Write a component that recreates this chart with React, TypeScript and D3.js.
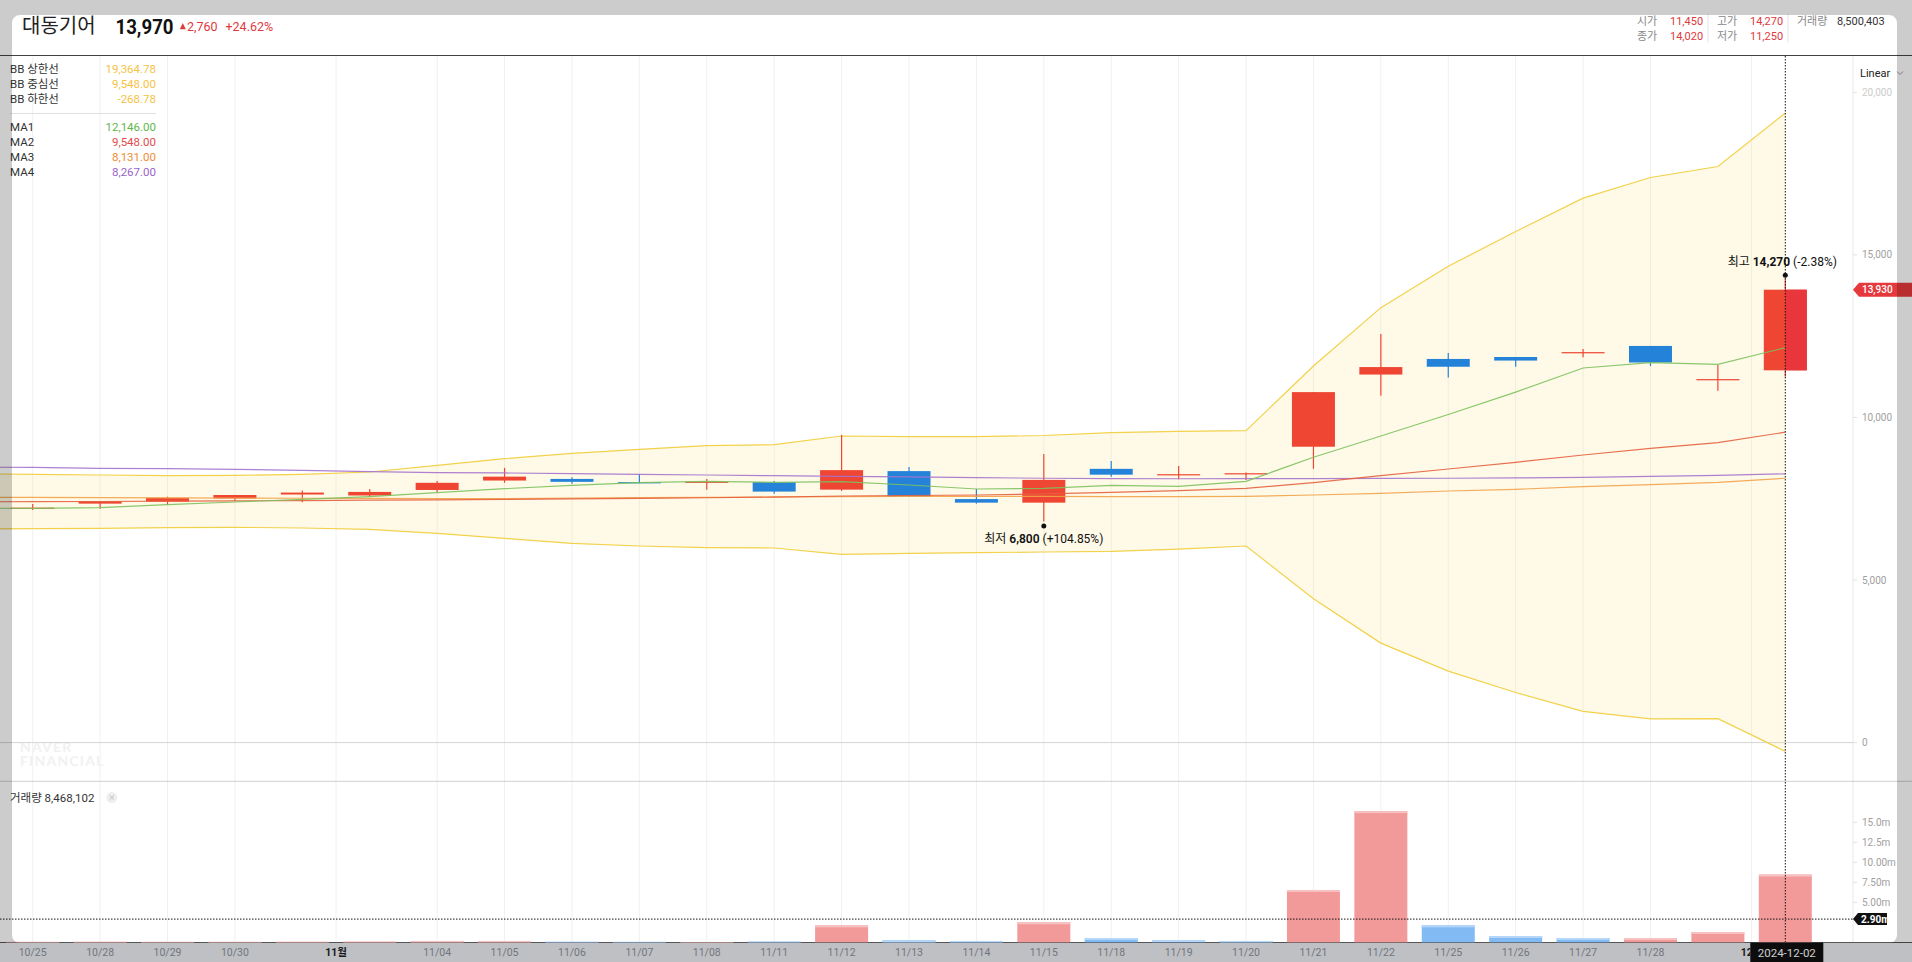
import React from "react";
import * as d3 from "d3";

const FONT = "Roboto, 'Noto Sans CJK KR', sans-serif";

// ---------- data ----------
const dates = [
  "10/25", "10/28", "10/29", "10/30", "10/31", "11/01", "11/04", "11/05", "11/06",
  "11/07", "11/08", "11/11", "11/12", "11/13", "11/14", "11/15", "11/18", "11/19",
  "11/20", "11/21", "11/22", "11/25", "11/26", "11/27", "11/28", "11/29", "12/02",
];
const opens = [7225, 7350, 7410, 7510, 7630, 7600, 7770, 8060, 8110, 8010, 8020, 8010, 7780, 8350, 7490, 7380, 8420, 8250, 8280, 9100, 11320, 11800, 11860, 12000, 12200, 11170, 11450];
const highs = [7340, 7420, 7565, 7615, 7750, 7800, 8045, 8450, 8160, 8260, 8105, 8045, 9460, 8480, 7800, 8880, 8660, 8505, 8310, 10780, 12570, 11980, 11860, 12105, 12200, 11615, 14270];
const lows = [7155, 7190, 7310, 7430, 7390, 7565, 7700, 7990, 7960, 7975, 7780, 7655, 7740, 7565, 7350, 6800, 8180, 8100, 8080, 8420, 10670, 11230, 11560, 11850, 11580, 10820, 11250];
const closes = [7226, 7420, 7530, 7615, 7690, 7710, 7990, 8180, 8020, 7995, 8025, 7720, 8380, 7565, 7380, 8080, 8240, 8255, 8285, 10780, 11550, 11560, 11750, 12010, 11690, 11180, 13930];
// volume in millions of shares
const volumes = [0.05, 0.06, 0.05, 0.05, 0.06, 0.08, 0.15, 0.15, 0.06, 0.05, 0.04, 0.08, 2.12, 0.25, 0.12, 2.5, 0.54, 0.29, 0.16, 6.54, 16.4, 2.12, 0.79, 0.54, 0.54, 1.29, 8.468102];
const volumeUp = [true, true, true, true, true, true, true, true, false, false, true, false, true, false, false, true, false, false, false, true, true, false, false, false, true, true, true];

// indicator lines start one session earlier (10/24) so they run off the left edge
const lineDates = ["10/24", ...dates];
const bbUpper = [8270, 8252, 8231, 8210, 8220, 8252, 8323, 8528, 8733, 8898, 9021, 9132, 9163, 9430, 9409, 9409, 9445, 9532, 9574, 9593, 11583, 13377, 14650, 15719, 16745, 17380, 17718, 19364.78];
const bbLower = [6565, 6580, 6591, 6611, 6622, 6601, 6560, 6437, 6280, 6130, 6047, 5995, 5985, 5791, 5822, 5842, 5862, 5883, 5950, 6047, 4426, 3060, 2200, 1540, 960, 730, 735, -268.78];
const ma1 = [7210, 7206, 7226, 7318, 7400, 7482, 7564, 7687, 7810, 7914, 7994, 8036, 8005, 8025, 7923, 7800, 7822, 7914, 7883, 8037, 8775, 9430, 10090, 10780, 11521, 11685, 11634, 12146];
const ma2 = [7405, 7410, 7415, 7425, 7435, 7445, 7455, 7465, 7482, 7495, 7510, 7530, 7550, 7585, 7600, 7615, 7650, 7699, 7748, 7822, 7994, 8209, 8415, 8620, 8845, 9051, 9225, 9548];
const ma3 = [7545, 7544, 7535, 7525, 7520, 7515, 7510, 7505, 7502, 7520, 7533, 7545, 7555, 7565, 7570, 7575, 7570, 7565, 7565, 7570, 7615, 7668, 7738, 7790, 7871, 7932, 8005, 8131];
const ma4 = [8470, 8467, 8436, 8426, 8405, 8375, 8334, 8303, 8293, 8270, 8250, 8230, 8210, 8190, 8170, 8150, 8130, 8120, 8115, 8117, 8120, 8125, 8130, 8140, 8160, 8190, 8220, 8267];

const tickLabels = ["10/25", "10/28", "10/29", "10/30", "11월", "11/04", "11/05", "11/06", "11/07", "11/08", "11/11", "11/12", "11/13", "11/14", "11/15", "11/18", "11/19", "11/20", "11/21", "11/22", "11/25", "11/26", "11/27", "11/28", "12월"];
const tickPositions = [0, 1, 2, 3, 4.5, 6, 7, 8, 9, 10, 11, 12, 13, 14, 15, 16, 17, 18, 19, 20, 21, 22, 23, 24, 25.5];

const priceTicks = [0, 5000, 10000, 15000, 20000];
const volTickValues = [5, 7.5, 10, 12.5, 15];
const volTickLabels = ["5.00m", "7.50m", "10.00m", "12.5m", "15.0m"];

const bbLabels = ["BB 상한선", "BB 중심선", "BB 하한선"];
const bbValues = ["19,364.78", "9,548.00", "-268.78"];
const maLabels = ["MA1", "MA2", "MA3", "MA4"];
const maValues = ["12,146.00", "9,548.00", "8,131.00", "8,267.00"];

const stockName = "대동기어";
const lastPrice = "13,970";
const change = "2,760";
const changePct = "+24.62%";
const infoLabels = [["시가", "종가"], ["고가", "저가"]];
const infoValues = [["11,450", "14,020"], ["14,270", "11,250"]];
const volLabel = "거래량";
const volValueTop = "8,500,403";
const volLegendValue = "8,468,102";
const crossVolume = 2.9;
const crossDate = "2024-12-02";

// ---------- styles ----------
const RED = "#ee4632";
const BLUE = "#2483d9";
const BB_LINE = "#f2d14b";
const MA_COLORS = ["#7cc15e", "#e6603f", "#f2a24a", "#a473cc"];
const MA_TEXT = ["#5cb84a", "#e34b4b", "#ef8c35", "#9a63c9"];

export default function App() {
  const x = d3.scaleLinear().domain([0, 26]).range([32.7, 1785.3]);
  const y = d3.scaleLinear().domain([0, 15000]).range([742.6, 254.9]);
  const yv = d3.scaleLinear().domain([0, 15]).range([942.3, 822.3]);
  const lxi = (i: number) => x(i - 1);

  const linePath = (arr: number[]) =>
    d3.line<number>().x((_, i) => lxi(i)).y((d) => y(d))(arr) || "";
  const bandArea =
    d3
      .area<number>()
      .x((_, i) => lxi(i))
      .y0((_, i) => y(bbLower[i]))
      .y1((d) => y(d))(bbUpper) || "";

  const bodyW = 43;
  const volW = 53;
  const last = dates.length - 1;
  const lowIdx = d3.minIndex(lows);
  const highIdx = d3.maxIndex(highs);
  const cur = closes[last];
  const fmt = d3.format(",");
  const pct = (v: number) => {
    const p = (cur / v - 1) * 100;
    return (p >= 0 ? "+" : "") + p.toFixed(2) + "%";
  };

  const crossX = x(last);
  const crossY = yv(crossVolume);
  const closeY = y(cur);

  return (
    <svg
      width={1912}
      height={962}
      style={{ position: "absolute", left: 0, top: 0, display: "block" }}
      fontFamily={FONT}
    >
      <defs>
        <clipPath id="mainClip">
          <rect x={0} y={56} width={1853} height={725} />
        </clipPath>
        <clipPath id="axisClip">
          <rect x={0} y={943} width={crossX - 35} height={19} />
        </clipPath>
      </defs>
      <rect x={0} y={0} width={1912} height={962} fill="#ffffff" />
      {/* bottom axis strip */}
      <rect x={0} y={942} width={1912} height={20} fill="#eef0f5" />

      {/* vertical grid */}
      {tickPositions.map((p, i) => (
        <line key={"g" + i} x1={x(p)} x2={x(p)} y1={56} y2={942} stroke="#f0f0f0" strokeWidth={1} />
      ))}
      {/* right axis line */}
      <line x1={1853} x2={1853} y1={56} y2={942} stroke="#e8e8e8" />

      {/* watermark */}
      <g fill="#f1f1f1" fontWeight={700} fontSize={14} fontFamily="Lato, Roboto, sans-serif" letterSpacing={1.2}>
        <text x={20} y={751.5}>NAVER</text>
        <text x={20} y={766}>FINANCIAL</text>
      </g>

      {/* zero line / pane separators */}
      <line x1={0} x2={1853} y1={y(0)} y2={y(0)} stroke="#d4d4d4" />
      <line x1={0} x2={1912} y1={781.3} y2={781.3} stroke="#cfcfcf" />
      <line x1={0} x2={1912} y1={55.5} y2={55.5} stroke="#444" />
      <line x1={0} x2={1912} y1={942.5} y2={942.5} stroke="#555" />

      {/* main pane */}
      <g clipPath="url(#mainClip)">
        <path d={bandArea} fill="rgba(255,230,120,0.18)" />
        <path d={linePath(bbUpper)} fill="none" stroke={BB_LINE} strokeWidth={1.2} />
        <path d={linePath(bbLower)} fill="none" stroke={BB_LINE} strokeWidth={1.2} />

        {dates.map((d, i) => {
          const up = closes[i] >= opens[i];
          const col = up ? RED : BLUE;
          const top = y(Math.max(opens[i], closes[i]));
          const h = Math.max(1.2, Math.abs(y(opens[i]) - y(closes[i])));
          const cx = x(i);
          return (
            <g key={"c" + d}>
              <line x1={cx} x2={cx} y1={y(highs[i])} y2={y(lows[i])} stroke={col} strokeWidth={1.2} />
              <rect x={cx - bodyW / 2} y={top} width={bodyW} height={h} fill={col} />
              {i === last && (
                <rect x={cx} y={top} width={bodyW / 2} height={h} fill="#e8363c" />
              )}
            </g>
          );
        })}

        <path d={linePath(ma4)} fill="none" stroke={MA_COLORS[3]} strokeWidth={1.2} opacity={0.9} />
        <path d={linePath(ma3)} fill="none" stroke={MA_COLORS[2]} strokeWidth={1.2} opacity={0.9} />
        <path d={linePath(ma2)} fill="none" stroke={MA_COLORS[1]} strokeWidth={1.2} opacity={0.9} />
        <path d={linePath(ma1)} fill="none" stroke={MA_COLORS[0]} strokeWidth={1.2} opacity={0.9} />
      </g>

      {/* volume bars */}
      {dates.map((d, i) => {
        const top = yv(volumes[i]);
        const h = yv(0) - top;
        const cx = x(i);
        const up = volumeUp[i];
        return (
          <g key={"v" + d}>
            <rect x={cx - volW / 2} y={top} width={volW} height={h} fill={up ? "#f29a9a" : "#82baf4"} />
            <rect x={cx - volW / 2} y={top} width={volW} height={Math.min(2, h)} fill={up ? "#f7c2c2" : "#b4d6f8"} />
          </g>
        );
      })}

      {/* price axis */}
      {priceTicks.map((t, i) => (
        <g key={"pt" + t}>
          <line x1={1853} x2={1857} y1={y(t)} y2={y(t)} stroke="#e0e0e0" />
          <text
            x={1862}
            y={y(t) + 3.5}
            fontSize={10}
            fill={i === priceTicks.length - 1 ? "#cbcbcb" : "#a0a0a0"}
          >
            {fmt(t)}
          </text>
        </g>
      ))}
      {/* volume axis */}
      {volTickValues.map((t, i) => (
        <g key={"vt" + t}>
          <line x1={1853} x2={1857} y1={yv(t)} y2={yv(t)} stroke="#e0e0e0" />
          <text x={1862} y={yv(t) + 3.5} fontSize={10} fill="#a0a0a0">
            {volTickLabels[i]}
          </text>
        </g>
      ))}

      {/* date axis (labels hidden under the crosshair date tag are clipped) */}
      <g clipPath="url(#axisClip)">
        {tickLabels.map((t, i) => {
          const month = t.endsWith("월");
          return (
            <text
              key={"dl" + i}
              x={x(tickPositions[i])}
              y={956}
              fontSize={10.5}
              textAnchor="middle"
              fill={month ? "#222" : "#8f949c"}
              fontWeight={month ? 700 : 400}
            >
              {t}
            </text>
          );
        })}
      </g>

      {/* Linear selector */}
      <text x={1860} y={76.5} fontSize={11} fill="#222">Linear</text>
      <path d="M1897,71.5 l3,3 l3,-3" fill="none" stroke="#999" strokeWidth={1} />

      {/* high / low annotations */}
      <g fontSize={12} fill="#111" textAnchor="middle">
        <circle cx={x(lowIdx)} cy={y(lows[lowIdx]) + 4.5} r={2.5} fill="#111" />
        <text x={x(lowIdx)} y={y(lows[lowIdx]) + 21.5}>
          <tspan>최저 </tspan>
          <tspan fontWeight={600}>{fmt(lows[lowIdx])}</tspan>
          <tspan> ({pct(lows[lowIdx])})</tspan>
        </text>
        <circle cx={x(highIdx)} cy={y(highs[highIdx]) - 3.3} r={2.5} fill="#111" />
        <text x={x(highIdx) - 3} y={y(highs[highIdx]) - 12.5}>
          <tspan>최고 </tspan>
          <tspan fontWeight={700}>{fmt(highs[highIdx])}</tspan>
          <tspan> ({pct(highs[highIdx])})</tspan>
        </text>
      </g>

      {/* crosshair */}
      <line x1={crossX} x2={crossX} y1={56} y2={942} stroke="#111" strokeWidth={1} strokeDasharray="1.5,1.5" />
      <line x1={0} x2={1853} y1={crossY} y2={crossY} stroke="#111" strokeWidth={1} strokeDasharray="1.5,1.5" />

      {/* close price tag */}
      <path d={`M1853,${closeY} L1859,${closeY - 7} H1912 V${closeY + 7} H1859 Z`} fill="#e5393d" />
      <text x={1862} y={closeY + 3.6} fontSize={10} fill="#fff" fontWeight={500}>
        {fmt(cur)}
      </text>
      {/* crosshair volume tag */}
      <path d={`M1853,${crossY} L1858,${crossY - 6} H1887 V${crossY + 6} H1858 Z`} fill="#111" />
      <text x={1861} y={crossY + 3.5} fontSize={10} fill="#fff" fontWeight={700}>
        {crossVolume.toFixed(2)}m
      </text>
      {/* crosshair date tag */}
      <rect x={crossX - 35} y={942.5} width={73} height={20} fill="#111" />
      <text x={crossX + 1.5} y={956.5} fontSize={11.5} fill="#fff" textAnchor="middle">
        {crossDate}
      </text>

      {/* legends */}
      <g fontSize={11.5}>
        {bbLabels.map((l, i) => (
          <g key={"bb" + i}>
            <text x={10} y={73.3 + i * 14.8} fill="#333">{l}</text>
            <text x={156} y={73.3 + i * 14.8} fill="#f6c343" textAnchor="end">{bbValues[i]}</text>
          </g>
        ))}
        <line x1={10} x2={156} y1={113.5} y2={113.5} stroke="#e0e0e0" />
        {maLabels.map((l, i) => (
          <g key={"ma" + i}>
            <text x={10} y={131 + i * 14.9} fill="#333">{l}</text>
            <text x={156} y={131 + i * 14.9} fill={MA_TEXT[i]} textAnchor="end">{maValues[i]}</text>
          </g>
        ))}
        <text x={10} y={801.5} fill="#333">
          {volLabel} {volLegendValue}
        </text>
      </g>
      <circle cx={111.8} cy={797.5} r={5.5} fill="#efefef" />
      <path d="M109.6,795.3 l4.4,4.4 M114,795.3 l-4.4,4.4" stroke="#b5b5b5" strokeWidth={0.9} />

      {/* header */}
      <text x={22} y={33} fontSize={20} fill="#222" fontFamily="'Noto Sans CJK KR', sans-serif">
        {stockName}
      </text>
      <text x={115.5} y={34.3} fontSize={21} fontWeight={700} fill="#111" textLength={58} lengthAdjust="spacingAndGlyphs">
        {lastPrice}
      </text>
      <path d="M179.8,29.3 L182.8,23 L185.8,29.3 Z" fill="#e0393e" />
      <text x={187} y={30.7} fontSize={12.5} fill="#e0393e">{change}</text>
      <text x={225.5} y={30.7} fontSize={12.5} fill="#e0393e">{changePct}</text>

      {/* top-right info */}
      <g fontSize={11}>
        {infoLabels.map((col, c) =>
          col.map((lab, r) => (
            <g key={"inf" + c + r}>
              <text x={1637 + c * 80} y={25 + r * 14.5} fill="#888">{lab}</text>
              <text x={1670 + c * 80} y={25 + r * 14.5} fill="#e0393e">{infoValues[c][r]}</text>
            </g>
          ))
        )}
        <line x1={1708} x2={1708} y1={14} y2={43} stroke="#e6e6e6" />
        <line x1={1788} x2={1788} y1={14} y2={43} stroke="#e6e6e6" />
        <text x={1797} y={25} fill="#888">{volLabel}</text>
        <text x={1837} y={25} fill="#333">{volValueTop}</text>
      </g>

      {/* window frame overlay */}
      <path
        fillRule="evenodd"
        fill="rgba(0,0,0,0.2)"
        d="M0,0 H1912 V962 H0 Z M20,15 H1889 A8,8 0 0 1 1897,23 V935 A8,8 0 0 1 1889,943 H20 A8,8 0 0 1 12,935 V23 A8,8 0 0 1 20,15 Z"
      />
    </svg>
  );
}
